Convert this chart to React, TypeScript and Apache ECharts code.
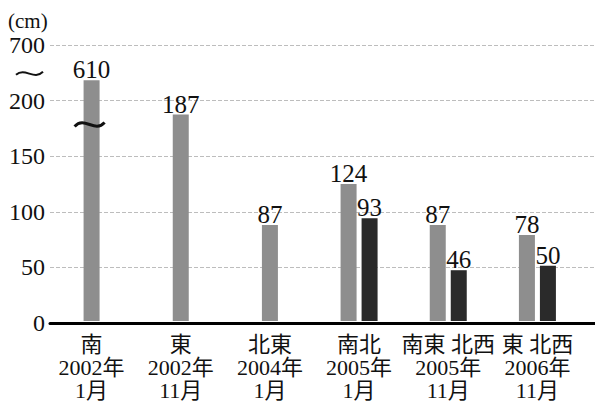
import React, { useEffect, useRef } from "react";
import * as echarts from "echarts";

const categories = [
  "南\n2002年\n1月",
  "東\n2002年\n11月",
  "北東\n2004年\n1月",
  "南北\n2005年\n1月",
  "南東 北西\n2005年\n11月",
  "東 北西\n2006年\n11月",
];
// real values shown on the labels
const grayValues = [610, 187, 87, 124, 87, 78];
const darkValues: (number | null)[] = [null, null, null, 93, 46, 50];
// axis: 0..200 linear, then a break; the top tick (250 on the drawn scale) reads 700
const yTicks = [0, 50, 100, 150, 200, 250];
const yTickLabels = ["0", "50", "100", "150", "200", "700"];
const breakAt = 200;
const brokenBarDrawn = 218; // drawn height of the bar that exceeds the break
const breakMarkLevel = 178; // where the wave mark crosses the broken bar

const FONT = "'Liberation Serif', 'Noto Sans CJK JP', serif";

export default function App() {
  const ref = useRef<HTMLDivElement>(null);
  useEffect(() => {
    if (!ref.current) return;
    const chart = echarts.init(ref.current, undefined, { renderer: "svg" });

    const drawn = (v: number) => (v > breakAt ? brokenBarDrawn : v);
    const grayData = grayValues.map((v, i) => [i, drawn(v), v, darkValues[i] != null ? -1 : 0]);
    const darkData = darkValues
      .map((v, i) => (v == null ? null : [i, drawn(v), v, 1]))
      .filter((d) => d != null);

    const makeRender = (fill: string) => (params: any, api: any) => {
      const idx = api.value(0);
      const dv = api.value(1);
      const real = api.value(2);
      const slot = api.value(3);
      const p = api.coord([idx, dv]);
      const p0 = api.coord([idx, 0]);
      const bw = 16;
      const cx = p[0] + slot * 10.5;
      return {
        type: "group",
        children: [
          {
            type: "rect",
            shape: { x: cx - bw / 2, y: p[1], width: bw, height: p0[1] - p[1] },
            style: { fill },
          },
          {
            type: "text",
            style: {
              text: String(real),
              x: cx,
              y: p[1] + 2,
              align: "center",
              verticalAlign: "bottom",
              font: `25px ${FONT}`,
              fill: "#111",
            },
          },
        ],
      };
    };

    chart.setOption({
      animation: false,
      backgroundColor: "#fff",
      grid: [
        { left: 50, right: 0, top: 45, height: 278 },
        { left: 47, right: 13, top: 45, height: 278 },
      ],
      xAxis: [
        {
          gridIndex: 0,
          type: "value",
          min: 0,
          max: 1,
          axisLine: { show: true, onZero: false, lineStyle: { color: "#000", width: 3 } },
          axisTick: { show: false },
          axisLabel: { show: false },
          splitLine: { show: false },
          z: 5,
        },
        {
          gridIndex: 1,
          type: "category",
          data: categories,
          axisLine: { show: false },
          axisTick: { show: false },
          axisLabel: {
            interval: 0,
            fontSize: 22,
            lineHeight: 23,
            fontFamily: FONT,
            color: "#111",
            margin: 12,
          },
        },
      ],
      yAxis: [
        {
          gridIndex: 0,
          type: "value",
          min: 0,
          max: 250,
          interval: 50,
          axisLine: { show: false },
          axisTick: { show: false },
          axisLabel: {
            fontSize: 24,
            fontFamily: FONT,
            color: "#111",
            margin: 5,
            formatter: (v: number) => {
              const k = yTicks.indexOf(v);
              return k >= 0 ? yTickLabels[k] : "";
            },
          },
          splitLine: { show: true, lineStyle: { color: "#bdbdbd", type: [4, 2], width: 1 } },
        },
        {
          gridIndex: 1,
          type: "value",
          min: 0,
          max: 250,
          show: false,
          splitLine: { show: false },
        },
      ],
      series: [
        {
          type: "custom",
          xAxisIndex: 1,
          yAxisIndex: 1,
          renderItem: makeRender("#8e8e8e"),
          data: grayData,
          z: 3,
        },
        {
          type: "custom",
          xAxisIndex: 1,
          yAxisIndex: 1,
          renderItem: makeRender("#2a2a2a"),
          data: darkData,
          z: 3,
        },
      ],
    });

    // break marks: one on the y axis between 200 and 700, one across each broken bar
    const axisMarkY = chart.convertToPixel({ yAxisIndex: 0 }, 225) as number;
    const graphics: any[] = [
      {
        type: "text",
        left: 8,
        top: 10,
        style: { text: "(cm)", font: `21px ${FONT}`, fill: "#111" },
      },
      {
        type: "bezierCurve",
        shape: {
          x1: 16, y1: axisMarkY + 2,
          cpx1: 25, cpy1: axisMarkY - 6,
          cpx2: 34, cpy2: axisMarkY + 8,
          x2: 43, y2: axisMarkY - 1,
        },
        style: { stroke: "#111", lineWidth: 2, fill: "none" },
        z: 10,
      },
    ];
    grayValues.forEach((v, i) => {
      if (v <= breakAt) return;
      const pt = chart.convertToPixel({ xAxisIndex: 1, yAxisIndex: 1 }, [i, breakMarkLevel]) as number[];
      const slot = darkValues[i] != null ? -1 : 0;
      const cx = pt[0] + slot * 10.5;
      const cy = pt[1];
      graphics.push({
        type: "bezierCurve",
        shape: {
          x1: cx - 17, y1: cy + 2,
          cpx1: cx - 7, cpy1: cy - 9,
          cpx2: cx + 3, cpy2: cy + 9,
          x2: cx + 13, y2: cy - 2,
        },
        style: { stroke: "#111", lineWidth: 3, fill: "none" },
        z: 10,
      });
    });
    chart.setOption({ graphic: graphics });

    return () => chart.dispose();
  }, []);
  return <div ref={ref} style={{ width: 595, height: 402, position: "absolute", left: 0, top: 0 }} />;
}
